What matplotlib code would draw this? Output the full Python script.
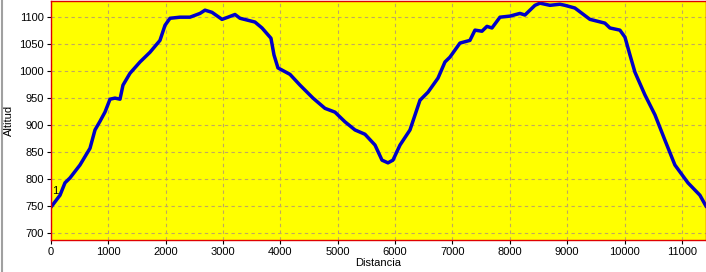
import matplotlib
matplotlib.use("Agg")
import matplotlib.pyplot as plt
from matplotlib.lines import Line2D

# perfil de altitud (distancia en m, altitud en m)
distancia = [0, 157, 244, 331, 505, 680, 767, 854, 941, 1029, 1115, 1203, 1255,
             1377, 1552, 1726, 1900, 1988, 2075, 2249, 2423, 2598, 2685, 2807,
             2981, 3086, 3208, 3295, 3556, 3679, 3835, 3888, 3957, 4167, 4342,
             4568, 4777, 4951, 5126, 5300, 5474, 5649, 5771, 5875, 5962, 6085,
             6259, 6433, 6573, 6747, 6869, 6956, 7130, 7304, 7392, 7514, 7601,
             7688, 7828, 8002, 8176, 8263, 8438, 8525, 8699, 8873, 8960, 9134,
             9396, 9657, 9745, 9919, 10007, 10094, 10181, 10355, 10530, 10704,
             10878, 11105, 11314, 11419]
altitud = [748, 770, 793, 802, 826, 857, 891, 907, 924, 948, 950, 948, 974,
           996, 1017, 1035, 1057, 1085, 1098, 1100, 1100, 1107, 1113, 1109,
           1096, 1100, 1105, 1098, 1091, 1080, 1061, 1030, 1006, 994, 974,
           950, 931, 924, 906, 891, 883, 863, 835, 830, 835, 863,
           891, 946, 961, 987, 1017, 1026, 1052, 1057, 1076, 1074, 1083,
           1080, 1100, 1102, 1107, 1104, 1122, 1126, 1122, 1124, 1122, 1117,
           1096, 1089, 1080, 1076, 1063, 1030, 998, 956, 919, 872,
           826, 793, 770, 750]

xticks = list(range(0, 11001, 1000))
yticks = list(range(700, 1101, 50))

plt.rcParams['font.family'] = ['Liberation Sans', 'DejaVu Sans']

fig = plt.figure(figsize=(7.06, 2.72), dpi=100)
ax = fig.add_axes([51/706, 32/272, 655/706, 239/272])
ax.set_facecolor('#FFFF00')

ax.plot(distancia, altitud, color='#0000C8', lw=2.5, solid_joinstyle='round')
ax.text(20, 772, '1', fontsize=8, color='black')

ax.set_xlim(0, 11420)
ax.set_ylim(687, 1130)
ax.set_xticks(xticks)
ax.set_yticks(yticks)
ax.tick_params(labelsize=8, length=3, color='black', pad=2)
ax.grid(True, color='#C0A860', linestyle=(0, (3, 3)), lw=0.8)

for s in ax.spines.values():
    s.set_color('#E00000')
    s.set_linewidth(1)

ax.set_xlabel('Distancia', fontsize=8, labelpad=1)
ax.set_ylabel('Altitud', fontsize=8, labelpad=4)

# marco gris de la ventana
fig.add_artist(Line2D([1.5/706, 1.5/706], [0, 1], color='#A0A0A0', lw=1.5,
                      transform=fig.transFigure))

fig.savefig('out.png', dpi=100)
